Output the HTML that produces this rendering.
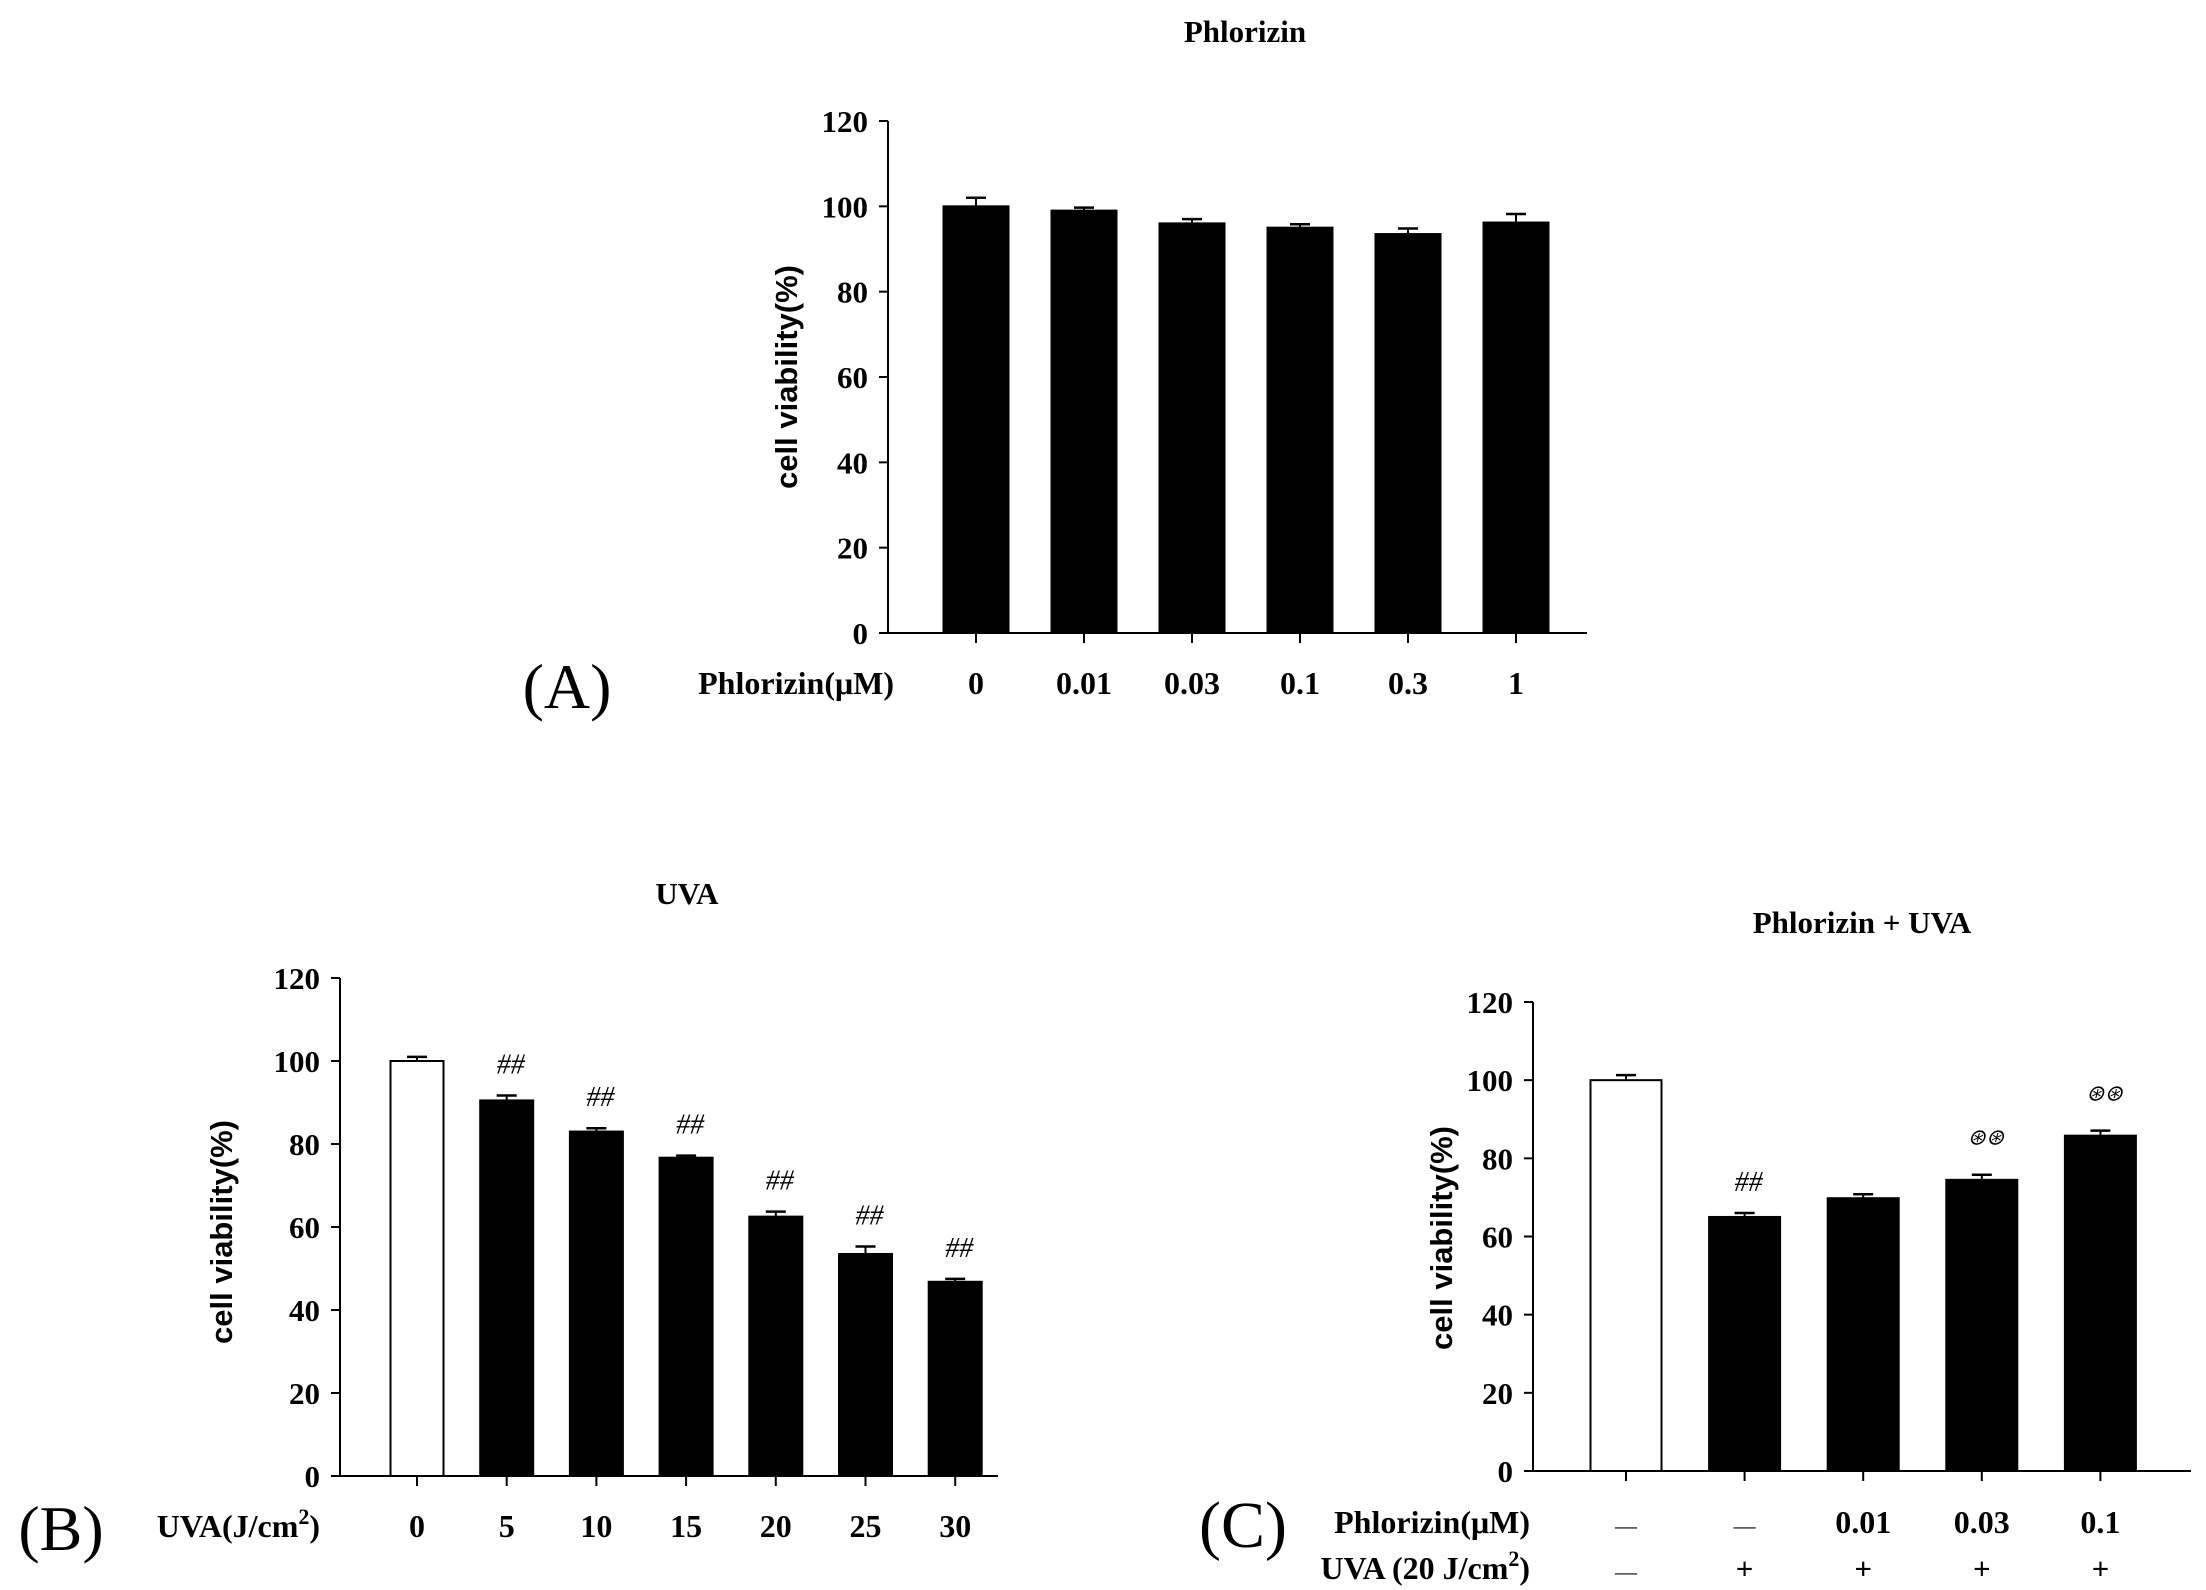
<!DOCTYPE html>
<html><head><meta charset="utf-8"><style>
html,body{margin:0;padding:0;background:#fff;}
svg{display:block;}
text{font-family:"Liberation Serif",serif;font-weight:bold;fill:#000;}
.yl{font-family:"Liberation Sans",sans-serif;font-weight:bold;}
.pl{font-weight:normal;}
</style></head><body>
<svg id="fig" width="2206" height="1590" viewBox="0 0 2206 1590" xmlns="http://www.w3.org/2000/svg">
<g id="pa"></g>
<g id="pb"></g>
<g id="pc"></g>
<text x="567" y="708" font-size="64" text-anchor="middle" class="pl">(A)</text>
<text x="61" y="1550" font-size="64" text-anchor="middle" class="pl">(B)</text>
<text x="1243" y="1547" font-size="66" text-anchor="middle" class="pl">(C)</text>
<text x="320" y="1537" font-size="32" text-anchor="end">UVA(J/cm<tspan font-size="22" dy="-13">2</tspan><tspan dy="13">)</tspan></text>
<text x="1530" y="1579" font-size="32" text-anchor="end">UVA (20 J/cm<tspan font-size="22" dy="-13">2</tspan><tspan dy="13">)</tspan></text>
</svg>
<script>
const yTicks = [0, 20, 40, 60, 80, 100, 120];
const catsA = ["0", "0.01", "0.03", "0.1", "0.3", "1"];
const valsA = [100, 99, 96, 95, 93.5, 96.2];
const errA = [2, 0.7, 1, 0.8, 1.3, 2];
const catsB = ["0", "5", "10", "15", "20", "25", "30"];
const valsB = [100, 90.5, 83, 76.7, 62.5, 53.5, 46.8];
const errB = [1, 1.2, 0.8, 0.5, 1.2, 1.8, 0.7];
const sigB = ["", "##", "##", "##", "##", "##", "##"];
const phlC = ["\u2014", "\u2014", "0.01", "0.03", "0.1"];
const uvaC = ["\u2014", "+", "+", "+", "+"];
const valsC = [100, 65, 69.8, 74.5, 85.8];
const errC = [1.3, 1, 1, 1.3, 1.3];
const sigC = ["", "##", "", "\u229b\u229b", "\u229b\u229b"];

const NS = "http://www.w3.org/2000/svg";
function mk(p, tag, at, txt) {
  const e = document.createElementNS(NS, tag);
  for (const k in at) e.setAttribute(k, at[k]);
  if (txt !== undefined) e.textContent = txt;
  p.appendChild(e);
  return e;
}
function panel(g, o) {
  const y = v => o.y0 - (v / 120) * (o.y0 - o.y120);
  const x = i => o.x0 + i * o.step;
  const ax = mk(g, "line", {x1: o.ax, y1: o.y120, x2: o.ax, y2: o.y0, stroke: "#000", "stroke-width": 2});
  
  
  const bx = mk(g, "line", {x1: o.ax, y1: o.y0, x2: o.xEnd, y2: o.y0, stroke: "#000", "stroke-width": 2});
  
  
  yTicks.forEach(t => {
    const tk = mk(g, "line", {x1: o.ax - 9, y1: y(t), x2: o.ax, y2: y(t), stroke: "#000", "stroke-width": 2});
    
    
    const tl = mk(g, "text", {x: o.ax - 20, y: y(t) + 11, "font-size": 31, "text-anchor": "end"}, String(t));
    
    
  });
  o.vals.forEach((v, i) => {
    const cx = x(i);
    const tk = mk(g, "line", {x1: cx, y1: o.y0, x2: cx, y2: o.y0 + 10, stroke: "#000", "stroke-width": 2});
    
    
    const open = o.open && i === 0;
    const b = mk(g, "rect", {x: cx - o.bw / 2, y: y(v), width: o.bw, height: o.y0 - y(v), fill: open ? "#fff" : "#000", stroke: "#000", "stroke-width": 2});
    
    
    const et = y(v + o.err[i]);
    const e1 = mk(g, "line", {x1: cx, y1: y(v), x2: cx, y2: et, stroke: "#000", "stroke-width": 2});
    
    
    const e2 = mk(g, "line", {x1: cx - 10, y1: et, x2: cx + 10, y2: et, stroke: "#000", "stroke-width": 2.5});
    
    
    if (o.sig && o.sig[i]) {
      const s = o.sig[i];
      const circ = s.indexOf("\u229b") >= 0;
      const st = mk(g, "text", {x: cx + 4, y: et - (circ ? 30 : 22), "font-size": circ ? 22 : 28, "text-anchor": "middle", class: "pl", "font-style": "italic", fill: circ ? "#555" : "#333"}, s);
      
      
    }
  });
  const t = mk(g, "text", {x: o.tx, y: o.ty, "font-size": 31, "text-anchor": "middle"}, o.title);
  
  
  const yl = mk(g, "text", {x: 0, y: 0, "font-size": 31, "text-anchor": "middle", class: "yl", transform: `translate(${o.ylx},${o.yly}) rotate(-90)`}, "cell viability(%)");
  
  
  return x;
}
const ga = document.getElementById("pa");
const xa = panel(ga, {ax: 888, xEnd: 1587, y0: 633, y120: 121, x0: 976, step: 108, bw: 65, vals: valsA, err: errA, title: "Phlorizin", tx: 1245, ty: 42, ylx: 797, yly: 377});
catsA.forEach((c, i) => {
  const t = mk(ga, "text", {x: xa(i), y: 694, "font-size": 32, "text-anchor": "middle"}, c);
  
  
});
const la = mk(ga, "text", {x: 894, y: 694, "font-size": 32, "text-anchor": "end"}, "Phlorizin(\u03bcM)");



const gb = document.getElementById("pb");
const xb = panel(gb, {ax: 340, xEnd: 998, y0: 1476, y120: 978, x0: 417, step: 89.7, bw: 53, vals: valsB, err: errB, sig: sigB, open: true, title: "UVA", tx: 687, ty: 904, ylx: 232, yly: 1232});
catsB.forEach((c, i) => {
  const t = mk(gb, "text", {x: xb(i), y: 1537, "font-size": 32, "text-anchor": "middle"}, c);
  
  
});

const gc = document.getElementById("pc");
const xc = panel(gc, {ax: 1533, xEnd: 2191, y0: 1471, y120: 1002, x0: 1626, step: 118.6, bw: 71, vals: valsC, err: errC, sig: sigC, open: true, title: "Phlorizin + UVA", tx: 1862, ty: 933, ylx: 1452, yly: 1238});
phlC.forEach((c, i) => {
  const t = mk(gc, "text", {x: xc(i), y: 1533, "font-size": c.length > 1 ? 32 : 22, "text-anchor": "middle", class: c.length > 1 ? "" : "pl", fill: c.length > 1 ? "#000" : "#666"}, c);
  
  
});
uvaC.forEach((c, i) => {
  const t = mk(gc, "text", {x: xc(i), y: 1579, "font-size": c === "+" ? 31 : 22, "text-anchor": "middle", class: c === "+" ? "" : "pl", fill: c === "+" ? "#000" : "#666"}, c);
  
  
});
const lc = mk(gc, "text", {x: 1530, y: 1533, "font-size": 32, "text-anchor": "end"}, "Phlorizin(\u03bcM)");


</script>
</body></html>
